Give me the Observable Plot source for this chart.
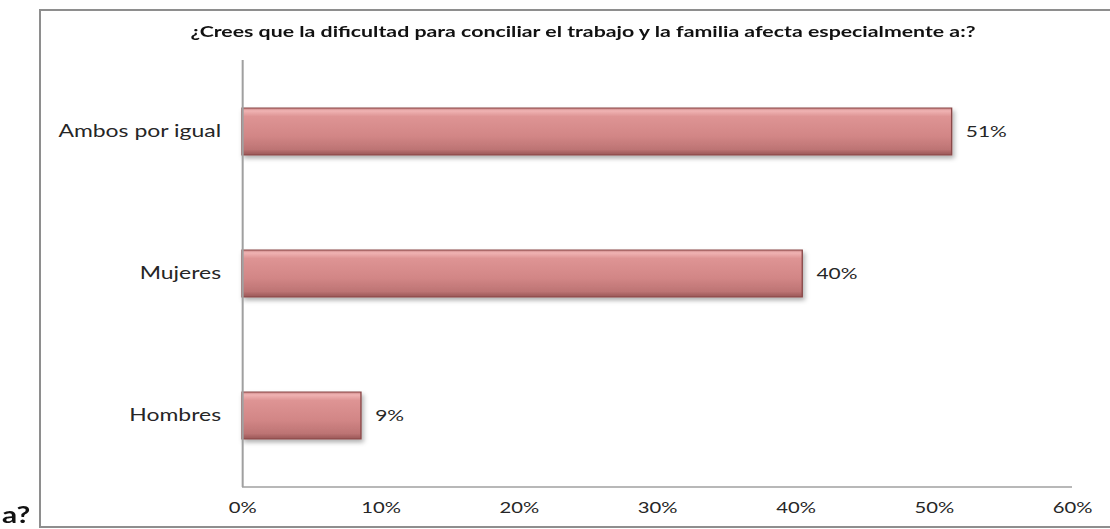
<!DOCTYPE html>
<html><head><meta charset="utf-8">
<script src="https://cdn.jsdelivr.net/npm/d3@7"></script>
<script src="https://cdn.jsdelivr.net/npm/@observablehq/plot@0.6"></script>
<style>
body{margin:0;background:#fff;width:1110px;height:529px;overflow:hidden;position:relative;font-family:Lato,"Open Sans",sans-serif;}
#frame{position:absolute;left:39px;top:9px;width:1100px;height:519px;border:2px solid #8e8e8e;box-sizing:border-box;}
#title{position:absolute;left:0;width:1166px;top:22px;text-align:center;font-weight:bold;font-size:15px;color:#111;transform:scaleX(1.42);transform-origin:583px 0;white-space:nowrap;}
#corner{position:absolute;left:2px;top:500px;font-weight:bold;font-size:23px;color:#111;transform:scaleX(1.3);transform-origin:0 0;}
#chart{position:absolute;left:0;top:50px;width:1110px;}
#chart g[aria-label^="y-axis"] text{font-size:17px;}
</style>
</head><body>
<div id="frame"></div>
<div id="title"></div>
<div id="corner"></div>
<div id="chart"></div>
<script>
const titleText = "¿Crees que la dificultad para conciliar el trabajo y la familia afecta especialmente a:?";
const cornerText = "a?";
const categories = ["Ambos por igual", "Mujeres", "Hombres"];
const values = [51.3, 40.5, 8.6];
const valueLabels = ["51%", "40%", "9%"];
const xTicks = [0, 10, 20, 30, 40, 50, 60];
const tickLabels = ["0%", "10%", "20%", "30%", "40%", "50%", "60%"];

document.getElementById("title").textContent = titleText;
document.getElementById("corner").textContent = cornerText;

const data = categories.map((c, i) => ({cat: c, value: values[i], label: valueLabels[i]}));
const S = 1.35;
const H = 476;
const W = 1110 / S;
const mB = 39, mT = 10;

const plot = Plot.plot({
  width: W, height: H,
  marginLeft: 242 / S, marginRight: 38 / S, marginTop: mT, marginBottom: mB,
  style: {fontFamily: "Lato, 'Open Sans', sans-serif", fontSize: "15px", color: "#262626", background: "transparent", overflow: "visible"},
  x: {domain: [0, 60], ticks: xTicks, tickFormat: d => tickLabels[xTicks.indexOf(d)], tickSize: 0, tickPadding: 15, label: null},
  y: {domain: categories, paddingInner: 0.67, paddingOuter: 0.335, tickSize: 0, tickPadding: 16, label: null},
  marks: [
    Plot.barX(data, {x: "value", y: "cat", fill: "url(#barGrad)", stroke: "#8a4848", strokeWidth: 1}),
    Plot.text(data, {x: "value", y: "cat", text: "label", textAnchor: "start", dx: 10, fontSize: 15.5, fill: "#262626"}),
    Plot.ruleX([0], {stroke: "#a0a0a0", strokeWidth: 1.5})
  ]
});

const ns = "http://www.w3.org/2000/svg";
const defs = document.createElementNS(ns, "defs");
defs.innerHTML = `
<linearGradient id="barGrad" x1="0" y1="0" x2="0" y2="1">
  <stop offset="0" stop-color="#c98585"/>
  <stop offset="0.06" stop-color="#f0b3b3"/>
  <stop offset="0.18" stop-color="#de9494"/>
  <stop offset="0.6" stop-color="#d28686"/>
  <stop offset="0.88" stop-color="#bd7474"/>
  <stop offset="1" stop-color="#995656"/>
</linearGradient>
<filter id="barShadow" x="-5%" y="-20%" width="115%" height="160%">
  <feDropShadow dx="1.5" dy="3" stdDeviation="2" flood-color="#000" flood-opacity="0.3"/>
</filter>`;
plot.insertBefore(defs, plot.firstChild);
const barG = plot.querySelector('g[aria-label="bar"]');
if (barG) barG.setAttribute("filter", "url(#barShadow)");

// bottom axis line from the x scale
const xr = plot.scale("x").range;
const base = document.createElementNS(ns, "line");
base.setAttribute("x1", xr[0]); base.setAttribute("x2", xr[1]);
base.setAttribute("y1", H - mB); base.setAttribute("y2", H - mB);
base.setAttribute("stroke", "#a0a0a0"); base.setAttribute("stroke-width", 1.5);
plot.appendChild(base);

plot.setAttribute("viewBox", `0 0 ${W} ${H}`);
plot.setAttribute("preserveAspectRatio", "none");
plot.setAttribute("width", 1110);
plot.setAttribute("height", H);
plot.style.width = "1110px";
plot.style.height = H + "px";
plot.style.maxWidth = "none";
document.getElementById("chart").appendChild(plot);
</script>
</body></html>
